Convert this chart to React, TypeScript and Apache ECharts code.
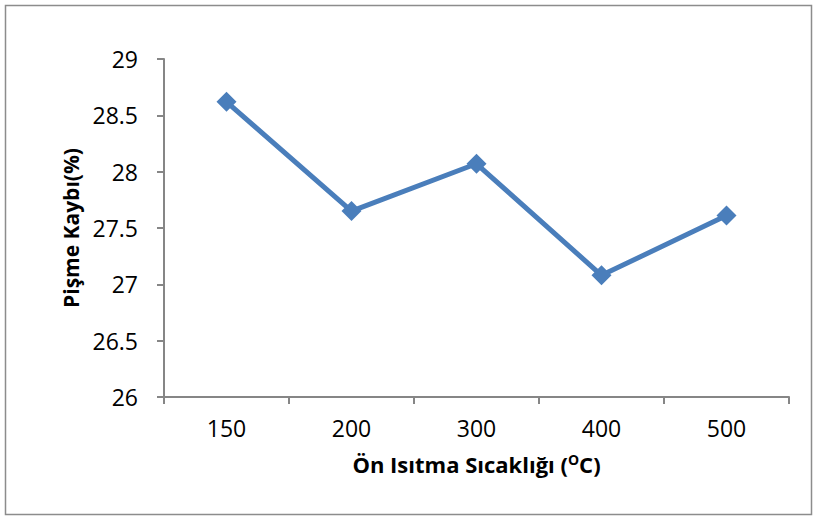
import React, { useEffect, useRef } from "react";
import * as echarts from "echarts";

const categories = ["150", "200", "300", "400", "500"];
const cookingLoss = [28.62, 27.65, 28.07, 27.08, 27.61];
const yMin = 26;
const yMax = 29;
const yStep = 0.5;

const FONT = "'Open Sans', 'Liberation Sans', sans-serif";
const AXIS_GRAY = "#868686";
const LINE_BLUE = "#4A7EBB";

export default function App() {
  const ref = useRef<HTMLDivElement>(null);

  useEffect(() => {
    if (!ref.current) return;
    const chart = echarts.init(ref.current, undefined, { renderer: "svg" });
    chart.setOption({
      animation: false,
      backgroundColor: "#ffffff",
      graphic: [
        {
          type: "rect",
          shape: { x: 5.5, y: 5.5, width: 806, height: 509 },
          style: { fill: "none", stroke: "#8c8c8c", lineWidth: 1.5 },
          silent: true,
        },
      ],
      grid: { left: 164, right: 26, top: 59, bottom: 121 },
      xAxis: {
        type: "category",
        data: categories,
        boundaryGap: true,
        axisLine: { lineStyle: { color: AXIS_GRAY, width: 2 } },
        axisTick: { show: true, length: 7, lineStyle: { color: AXIS_GRAY, width: 2 } },
        axisLabel: { color: "#000", fontFamily: FONT, fontSize: 23, margin: 19 },
        name: "{t|Ön Isıtma Sıcaklığı (}{sup|O}{t|C)}",
        nameLocation: "middle",
        nameGap: 55,
        nameTextStyle: {
          rich: {
            t: { fontFamily: FONT, fontSize: 22, fontWeight: "bold", color: "#000", verticalAlign: "bottom" },
            sup: { fontFamily: FONT, fontSize: 14, fontWeight: "bold", color: "#000", verticalAlign: "top", padding: [0, 0, 9, 0] },
          },
        },
      },
      yAxis: {
        type: "value",
        min: yMin,
        max: yMax,
        interval: yStep,
        splitLine: { show: false },
        axisLine: { show: true, lineStyle: { color: AXIS_GRAY, width: 2 } },
        axisTick: { show: true, length: 7, lineStyle: { color: AXIS_GRAY, width: 2 } },
        axisLabel: { color: "#000", fontFamily: FONT, fontSize: 23, margin: 26 },
        name: "Pişme Kaybı(%)",
        nameLocation: "middle",
        nameRotate: 90,
        nameGap: 81,
        nameTextStyle: { fontFamily: FONT, fontSize: 21, fontWeight: "bold", color: "#000" },
      },
      series: [
        {
          type: "line",
          data: cookingLoss,
          symbol: "diamond",
          symbolSize: 20,
          lineStyle: { color: LINE_BLUE, width: 5 },
          itemStyle: { color: LINE_BLUE },
        },
      ],
    });
    return () => chart.dispose();
  }, []);

  return (
    <div
      ref={ref}
      style={{ position: "fixed", left: 0, top: 0, width: 815, height: 518 }}
    />
  );
}
